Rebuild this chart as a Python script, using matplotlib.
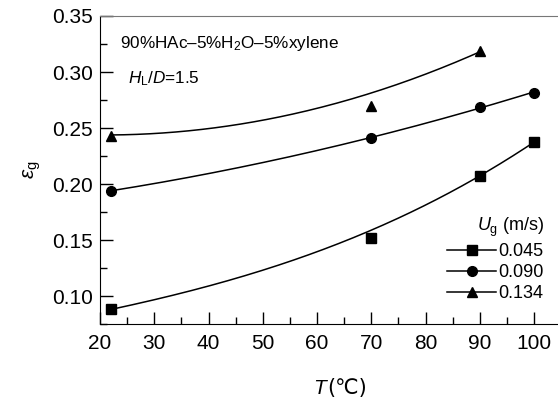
import numpy as np
import matplotlib
matplotlib.use('Agg')
import matplotlib.pyplot as plt
from matplotlib.lines import Line2D
from matplotlib.ticker import MultipleLocator, FormatStrFormatter

plt.rcParams['font.family'] = ['Liberation Sans', 'DejaVu Sans']
plt.rcParams['mathtext.fontset'] = 'custom'
plt.rcParams['mathtext.rm'] = 'Liberation Sans'
plt.rcParams['mathtext.it'] = 'Liberation Sans:italic'

# measured points
T_sq = [22, 70, 90, 100]
eps_sq = [0.088, 0.152, 0.207, 0.2375]
T_ci = [22, 70, 90, 100]
eps_ci = [0.194, 0.241, 0.269, 0.2815]
T_tr = [22, 70, 90]
eps_tr = [0.243, 0.2696, 0.319]

# where the fitted curves run
Tfit_sq = [22, 46, 70, 90, 100]
epsfit_sq = [0.088, 0.117, 0.159, 0.207, 0.2375]
Tfit_tr = [22, 46, 70, 90]
epsfit_tr = [0.243, 0.256, 0.2786, 0.319]

labels = ['0.045', '0.090', '0.134']

fig = plt.figure(figsize=(5.58, 4.01), dpi=100)
ax = fig.add_axes([100/558, 77/401, 458/558, 308/401])

def curve(x, y, deg):
    c = np.polyfit(x, y, deg)
    xx = np.linspace(min(x), max(x), 200)
    return xx, np.polyval(c, xx)

xx, yy = curve(Tfit_sq, epsfit_sq, 3)
ax.plot(xx, yy, 'k-', lw=1.1)
xx, yy = curve(T_ci, eps_ci, 2)
ax.plot(xx, yy, 'k-', lw=1.1)
xx, yy = curve(Tfit_tr, epsfit_tr, 2)
ax.plot(xx, yy, 'k-', lw=1.1)

ax.plot(T_sq, eps_sq, 'ks', ms=6.5, ls='none')
ax.plot(T_ci, eps_ci, 'ko', ms=7, ls='none')
ax.plot(T_tr, eps_tr, 'k^', ms=7.5, ls='none')

ax.set_xlim(20, 20 + 458/5.425)
ax.set_ylim(0.075, 0.35)
ax.xaxis.set_major_locator(MultipleLocator(10))
ax.xaxis.set_minor_locator(MultipleLocator(5))
ax.yaxis.set_major_locator(MultipleLocator(0.05))
ax.yaxis.set_minor_locator(MultipleLocator(0.025))
ax.yaxis.set_major_formatter(FormatStrFormatter('%.2f'))
ax.tick_params(which='both', direction='in', top=False, right=False, labelsize=15)
ax.tick_params(which='major', length=9, width=1)
ax.tick_params(which='minor', length=5, width=1)
ax.tick_params(axis='x', pad=7)
ax.tick_params(axis='y', pad=5)
ax.spines['right'].set_visible(False)
ax.spines['top'].set_color('#777777')

# x label: italic T, then the degree sign in a font that has it
fig.text(313/558, 1 - 388/401, 'T', fontsize=15, style='italic', va='center', ha='left')
fig.text(327/558, 1 - 388/401, '(℃)', fontsize=15, va='center', ha='left',
         family=['DejaVu Sans'])

ax.set_ylabel(r'$\varepsilon_{\rm g}$', fontsize=15)
ax.yaxis.set_label_coords(-0.125, 0.5)

ax.text(0.044, 0.895, r'90%HAc–5%H$_2$O–5%xylene', transform=ax.transAxes, fontsize=12.3)
ax.text(0.062, 0.78, r'$H_{\rm L}/D$=1.5', transform=ax.transAxes, fontsize=12.3)

handles = [Line2D([], [], color='k', lw=1.1, marker=m, ms=ms)
           for m, ms in [('s', 6.5), ('o', 7), ('^', 7.5)]]
leg = ax.legend(handles, labels, title=r'$U_{\rm g}$ (m/s)', loc='lower right',
                bbox_to_anchor=(0.997, 0.03), frameon=False, fontsize=13,
                title_fontsize=13, handlelength=2.7, handletextpad=0.15,
                labelspacing=0.22, borderpad=0.2)
leg._legend_box.align = 'right'

fig.savefig('out.png', dpi=100)
